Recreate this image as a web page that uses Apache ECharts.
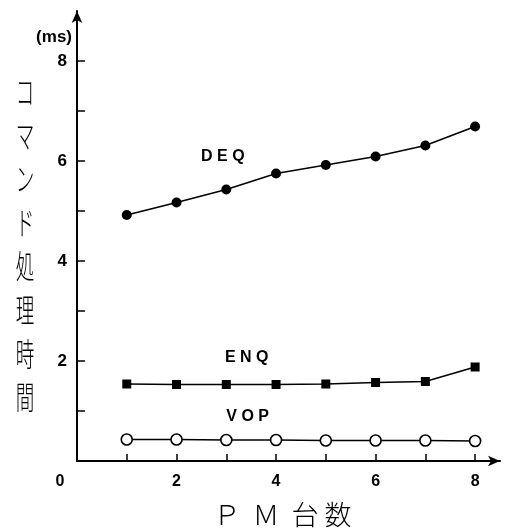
<!DOCTYPE html>
<html>
<head>
<meta charset="utf-8">
<script src="https://cdn.jsdelivr.net/npm/echarts@6/dist/echarts.min.js"></script>
<style>html,body{margin:0;padding:0;background:#fff}#c{width:512px;height:529px}</style>
</head>
<body>
<div id="c"></div>
<script>
var pmCounts = [1, 2, 3, 4, 5, 6, 7, 8];
var deqValues = [4.92, 5.17, 5.43, 5.75, 5.92, 6.09, 6.31, 6.69];
var enqValues = [1.54, 1.53, 1.53, 1.53, 1.54, 1.57, 1.59, 1.88];
var vopValues = [0.43, 0.43, 0.42, 0.42, 0.41, 0.41, 0.41, 0.40];
var xTickValues = [1, 2, 3, 4, 5, 6, 7, 8];
var xLabelValues = [0, 2, 4, 6, 8];
var yTickValues = [1, 2, 3, 4, 5, 6, 7, 8];
var yLabelValues = [2, 4, 6, 8];
var seriesNames = ['DEQ', 'ENQ', 'VOP'];
var seriesLabelSpots = [[2.93, 6.08], [3.41, 2.06], [3.43, 0.88]];
var yTitle = 'コマンド処理時間';
var xTitle = 'Ｐ  Ｍ  台 数';
var unitText = '(ms)';

function pairs(vals) { return pmCounts.map(function (x, i) { return [x, vals[i]]; }); }
function spaced(s) { return s.split('').join(' '); }

var chart = echarts.init(document.getElementById('c'), null, {renderer: 'canvas'});
var labelFont = {fontFamily: 'Liberation Sans', fontWeight: 'bold', fontSize: 16, color: '#000'};
function tagPoint(i) {
  return {
    symbol: 'circle', symbolSize: 1, itemStyle: {color: 'rgba(0,0,0,0)'},
    data: [{coord: seriesLabelSpots[i], value: seriesNames[i]}],
    label: Object.assign({show: true, position: 'inside', formatter: spaced(seriesNames[i])}, labelFont)
  };
}
var option = {
  animation: false,
  backgroundColor: '#fff',
  grid: {left: 77, right: 12, top: 11, bottom: 68, containLabel: false, outerBoundsMode: 'none'},
  xAxis: {
    type: 'value', min: 0, max: 8.5,
    name: xTitle, nameLocation: 'middle', nameGap: 40,
    nameTextStyle: {fontFamily: 'Noto Sans CJK JP', fontWeight: 300, fontSize: 27, color: '#000', padding: [0, 12, 0, 0]},
    axisLine: {show: true, symbol: ['none', 'arrow'], symbolSize: [8, 12], lineStyle: {color: '#000', width: 2}},
    axisTick: {show: true, inside: true, length: 7, customValues: xTickValues, lineStyle: {color: '#000', width: 1.5}},
    axisLabel: {
      customValues: xLabelValues, margin: 13,
      fontFamily: 'Liberation Sans', fontWeight: 'bold', fontSize: 16, color: '#000',
      formatter: function (v) { return v === 0 ? '{z|0}' : String(v); },
      rich: {z: {fontFamily: 'Liberation Sans', fontWeight: 'bold', fontSize: 16, color: '#000', padding: [0, 34, 0, 0]}}
    },
    splitLine: {show: false}
  },
  yAxis: {
    type: 'value', min: 0, max: 9,
    name: unitText, nameLocation: 'end', nameGap: -26,
    nameTextStyle: {fontFamily: 'Liberation Sans', fontWeight: 'bold', fontSize: 17, color: '#000', align: 'right', verticalAlign: 'middle', padding: [0, 5, 0, 0]},
    axisLine: {show: true, symbol: ['none', 'arrow'], symbolSize: [8, 12], lineStyle: {color: '#000', width: 2}},
    axisTick: {show: true, inside: true, length: 8, customValues: yTickValues, lineStyle: {color: '#000', width: 1.5}},
    axisLabel: {customValues: yLabelValues, margin: 10, fontFamily: 'Liberation Sans', fontWeight: 'bold', fontSize: 17, color: '#000'},
    splitLine: {show: false}
  },
  graphic: [{
    type: 'text', x: 25, y: 70, scaleX: 0.58,
    style: {text: yTitle.split('').join('\n'), fontFamily: 'Noto Sans CJK JP', fontWeight: 300, fontSize: 32, lineHeight: 43.6, fill: '#000', textAlign: 'center', textVerticalAlign: 'top'}
  }],
  series: [
    {name: seriesNames[0], type: 'line', data: pairs(deqValues), symbol: 'circle', symbolSize: 10,
      lineStyle: {color: '#000', width: 1.6}, itemStyle: {color: '#000'}, markPoint: tagPoint(0)},
    {name: seriesNames[1], type: 'line', data: pairs(enqValues), symbol: 'rect', symbolSize: 9,
      lineStyle: {color: '#000', width: 1.6}, itemStyle: {color: '#000'}, markPoint: tagPoint(1)},
    {name: seriesNames[2], type: 'line', data: pairs(vopValues), symbol: 'circle', symbolSize: 11, showAllSymbol: true,
      lineStyle: {color: '#000', width: 1.6}, itemStyle: {color: '#fff', borderColor: '#000', borderWidth: 1.6}, markPoint: tagPoint(2)}
  ]
};
chart.setOption(option);
</script>
</body>
</html>
